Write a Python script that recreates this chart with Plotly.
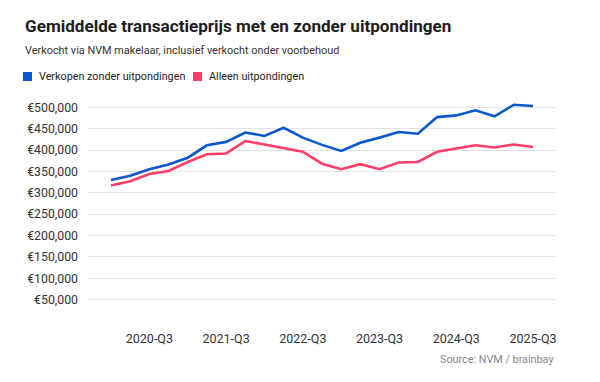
import plotly.graph_objects as go

quarters = ["2020-Q1", "2020-Q2", "2020-Q3", "2020-Q4",
            "2021-Q1", "2021-Q2", "2021-Q3", "2021-Q4",
            "2022-Q1", "2022-Q2", "2022-Q3", "2022-Q4",
            "2023-Q1", "2023-Q2", "2023-Q3", "2023-Q4",
            "2024-Q1", "2024-Q2", "2024-Q3", "2024-Q4",
            "2025-Q1", "2025-Q2", "2025-Q3"]

zonder_uitpondingen = [330000, 340000, 355000, 366000, 382000, 411000, 419000, 441000,
                       433000, 452000, 429000, 412000, 398000, 417000, 429000, 442000,
                       438000, 477000, 481000, 493000, 479000, 506000, 503000]

alleen_uitpondingen = [317000, 327000, 344000, 351000, 372000, 390000, 392000, 421000,
                       413000, 405000, 396000, 368000, 355000, 367000, 355000, 371000,
                       372000, 396000, 403000, 411000, 406000, 413000, 407000]

series_names = ["Verkopen zonder uitpondingen", "Alleen uitpondingen"]
series_colors = ["#0a57cf", "#ff3d68"]

x_tick_labels = ["2020-Q3", "2021-Q3", "2022-Q3", "2023-Q3", "2024-Q3", "2025-Q3"]
y_tick_values = [50000, 100000, 150000, 200000, 250000, 300000, 350000, 400000, 450000, 500000]

W, H = 600, 382
L, R, T, B = 88, 44, 103, 61
PW, PH = W - L - R, H - T - B


def xp(px):
    return (px - L) / PW


def yp(py):
    return (H - B - py) / PH


xi = list(range(len(quarters)))
fig = go.Figure()
for name, vals, col in zip(series_names, [zonder_uitpondingen, alleen_uitpondingen], series_colors):
    fig.add_trace(go.Scatter(x=xi, y=vals, mode="lines", name=name,
                             line=dict(color=col, width=2.6, shape="linear"),
                             showlegend=False,
                             hovertemplate="%{text}: €%{y:,.0f}<extra></extra>",
                             text=quarters))

fig.update_xaxes(
    range=[-1.2, len(quarters) - 1 + 1.2],
    tickvals=[quarters.index(q) for q in x_tick_labels],
    ticktext=x_tick_labels,
    showgrid=False, zeroline=False, showline=False,
    ticks="", ticklabelstandoff=8,
    tickfont=dict(family="Roboto", size=12.5, color="#333333"),
)
fig.update_yaxes(
    range=[0, 510000],
    tickvals=y_tick_values,
    ticktext=["€{:,}".format(v) for v in y_tick_values],
    showgrid=True, gridcolor="#e3e3e3", gridwidth=1,
    zeroline=False, showline=False, ticks="", ticklabelstandoff=9,
    tickfont=dict(family="Roboto", size=12.3, color="#333333"),
)

annotations = [
    dict(text="<b>Gemiddelde transactieprijs met en zonder uitpondingen</b>",
         x=xp(23), y=yp(26.5), xanchor="left", yanchor="middle",
         font=dict(family="Roboto", size=17.1, color="#1d1d1d")),
    dict(text="Verkocht via NVM makelaar, inclusief verkocht onder voorbehoud",
         x=xp(23), y=yp(50), xanchor="left", yanchor="middle",
         font=dict(family="Roboto", size=10.9, color="#333333")),
    dict(text="Source: NVM / brainbay",
         x=xp(556), y=yp(359), xanchor="right", yanchor="middle",
         font=dict(family="Roboto", size=10.8, color="#888888")),
]

shapes = []
legend_x = [(23, 37), (193, 207)]
for (sx, tx), name, col in zip(legend_x, series_names, series_colors):
    shapes.append(dict(type="rect", xref="paper", yref="paper",
                       x0=xp(sx), x1=xp(sx + 9), y0=yp(81), y1=yp(72),
                       fillcolor=col, line=dict(width=0)))
    annotations.append(dict(text=name, x=xp(tx), y=yp(76.5), xanchor="left", yanchor="middle",
                            font=dict(family="Roboto", size=10.8, color="#222222")))

for a in annotations:
    a.update(xref="paper", yref="paper", showarrow=False)

fig.update_layout(
    width=W, height=H,
    margin=dict(l=L, r=R, t=T, b=B),
    paper_bgcolor="white", plot_bgcolor="white",
    annotations=annotations, shapes=shapes,
    showlegend=False,
    font=dict(family="Roboto"),
)

fig.write_html("out.html", config={"displayModeBar": False},
               post_script="document.body.style.margin='0';")
